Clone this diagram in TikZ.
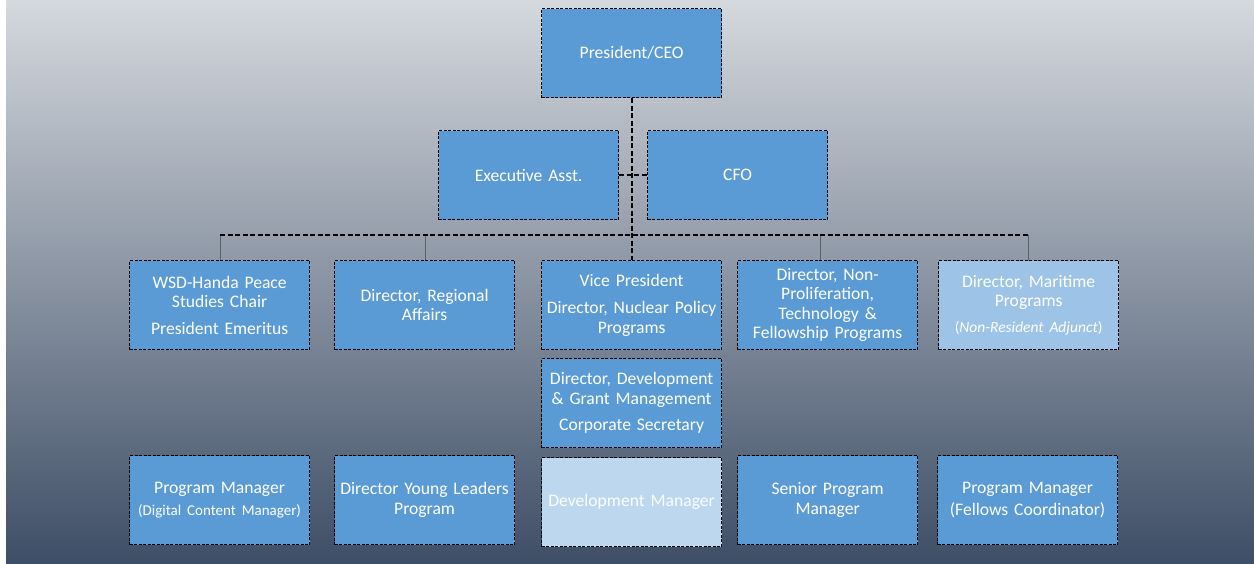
\documentclass[tikz,border=0pt]{standalone}
\usepackage{fontspec}
\setmainfont{Carlito}
\definecolor{boxblue}{RGB}{91,155,213}
\definecolor{lightbox}{RGB}{157,195,230}
\definecolor{paleblue}{RGB}{189,215,238}
\definecolor{bgtop}{RGB}{213,217,222}
\definecolor{bgbot}{RGB}{62,78,102}
\definecolor{dropgray}{RGB}{90,95,105}
\tikzset{
  orgbox/.style={draw=black, fill=boxblue, line width=1.2pt, dash pattern=on 3pt off 1.5pt,
    minimum width=180pt, minimum height=89pt, text width=178pt, align=center,
    text=white, inner sep=1pt, font=\fontsize{17.6}{19.5}\selectfont, anchor=north west},
  mainline/.style={draw=black, line width=2pt, dash pattern=on 5pt off 2.5pt},
  dropline/.style={draw=dropgray, line width=0.8pt}
}
\begin{document}
\begin{tikzpicture}[x=1pt,y=-1pt]
\useasboundingbox (0,0) rectangle (1254,564);
\fill[white] (0,0) rectangle (1254,564);
\shade[top color=bgtop, bottom color=bgbot] (6,0) rectangle (1254,564);

\node[orgbox] (ceo) at (541,8) {President/CEO};
\node[orgbox] (exec) at (438,130) {Executive Asst.};
\node[orgbox] (cfo) at (647,130) {CFO};

\node[orgbox] (wsd) at (129,260) {WSD-Handa Peace\\Studies Chair\\[7pt]President Emeritus};
\node[orgbox] (reg) at (334,260) {Director, Regional\\Affairs};
\node[orgbox] (vp) at (541,260) {Vice President\\[8pt]Director, Nuclear Policy\\Programs};
\node[orgbox] (np) at (737,260) {Director, Non-\\Proliferation,\\Technology \&\\Fellowship Programs};
\node[orgbox, fill=lightbox] (mar) at (938,260) {Director, Maritime\\Programs\\[6pt]{\fontsize{15.5}{18}\selectfont(\textit{Non-Resident Adjunct})}};

\node[orgbox] (dev) at (541,358) {Director, Development\\\& Grant Management\\[7pt]Corporate Secretary};

\node[orgbox] (pmd) at (129,455) {Program Manager\\[2pt]{\fontsize{15}{18}\selectfont(Digital Content Manager)}};
\node[orgbox] (dyl) at (334,455) {Director Young Leaders\\Program};
\node[orgbox, fill=paleblue, text=white!92!paleblue] (dm) at (541,457) {Development Manager};
\node[orgbox] (spm) at (737,455) {Senior Program\\Manager};
\node[orgbox] (pmf) at (937,455) {Program Manager\\[2pt](Fellows Coordinator)};

\coordinate (bus) at (632,235);
\coordinate (wsdtop) at (220,260);
\coordinate (regtop) at (425,260);
\coordinate (nptop) at (820,260);
\coordinate (martop) at (1028,260);

\draw[dropline] (wsdtop |- bus) -- (wsdtop);
\draw[dropline] (regtop |- bus) -- (regtop);
\draw[dropline] (nptop |- bus) -- (nptop);
\draw[dropline] (martop |- bus) -- (martop);

\draw[mainline] (ceo.south -| bus) -- (vp.north -| bus);
\draw[mainline] (wsdtop |- bus) -- (martop |- bus);
\draw[mainline] (exec.east) -- (cfo.west);
\end{tikzpicture}
\end{document}
